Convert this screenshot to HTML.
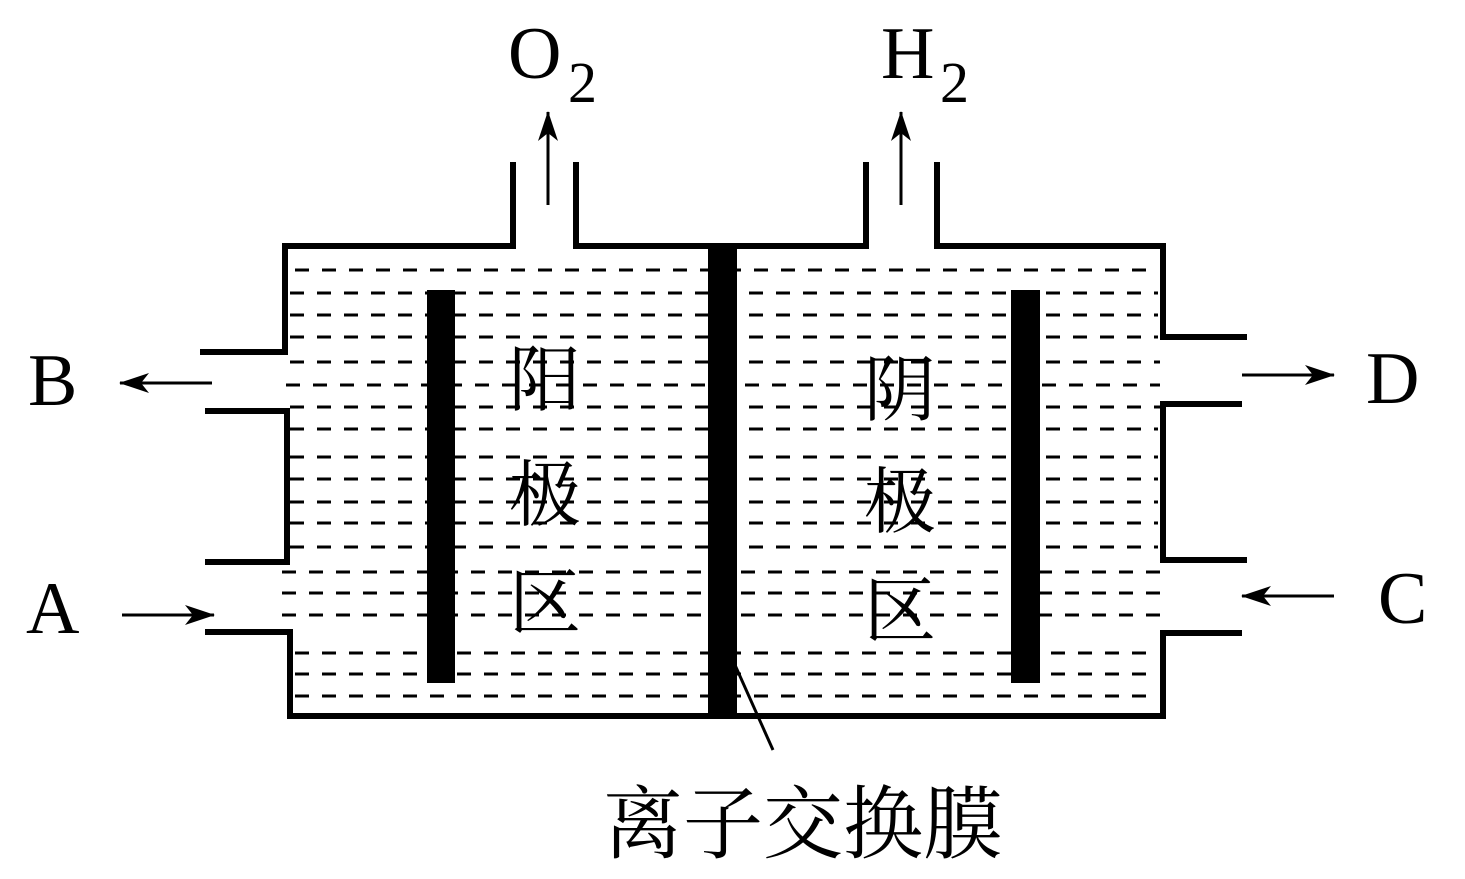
<!DOCTYPE html>
<html><head><meta charset="utf-8"><style>body{margin:0;background:#fff}svg{display:block}</style></head><body>
<svg width="1465" height="879" viewBox="0 0 1465 879" xmlns="http://www.w3.org/2000/svg">
<defs>
<marker id="ah2" markerWidth="30" markerHeight="20" refX="29" refY="10" orient="auto" markerUnits="userSpaceOnUse"><path d="M0,0 L30,10 L0,20 L8,10 Z" fill="#000"/></marker></defs>
<g stroke="#000" stroke-width="3" stroke-dasharray="14,13">
<line x1="295" y1="270" x2="1158" y2="270"/>
<line x1="290" y1="293" x2="1158" y2="293"/>
<line x1="290" y1="315" x2="1158" y2="315"/>
<line x1="290" y1="337" x2="1158" y2="337"/>
<line x1="290" y1="362" x2="1160" y2="362"/>
<line x1="286" y1="385" x2="1160" y2="385"/>
<line x1="290" y1="407" x2="1160" y2="407"/>
<line x1="290" y1="429" x2="1158" y2="429"/>
<line x1="290" y1="457" x2="1158" y2="457"/>
<line x1="290" y1="479" x2="1158" y2="479"/>
<line x1="290" y1="502" x2="1158" y2="502"/>
<line x1="290" y1="523" x2="1158" y2="523"/>
<line x1="290" y1="547" x2="1158" y2="547"/>
<line x1="282" y1="572" x2="1160" y2="572"/>
<line x1="282" y1="593" x2="1160" y2="593"/>
<line x1="282" y1="615" x2="1160" y2="615"/>
<line x1="295" y1="653" x2="1158" y2="653"/>
<line x1="295" y1="674" x2="1158" y2="674"/>
<line x1="295" y1="696" x2="1158" y2="696"/>
</g>
<g stroke="#000" stroke-width="6" fill="none">
<polyline points="200,352 285,352 285,246 513,246 513,162"/>
<polyline points="576,162 576,246 866,246 866,162"/>
<polyline points="937,162 937,246 1163,246 1163,337 1247,337"/>
<polyline points="205,411 287,411 287,562 205,562"/>
<polyline points="205,632 290,632 290,716 1163,716 1163,633 1242,633"/>
<polyline points="1242,404 1163,404 1163,560 1247,560"/>
</g>
<rect x="427" y="290" width="28" height="393" fill="#000"/>
<rect x="1011" y="290" width="29" height="393" fill="#000"/>
<rect x="708" y="246" width="29" height="470" fill="#000"/>
<line x1="735" y1="665" x2="773" y2="750" stroke="#000" stroke-width="3"/>
<g stroke="#000" stroke-width="3">
<line x1="548" y1="205" x2="548" y2="112" marker-end="url(#ah2)"/>
<line x1="901" y1="205" x2="901" y2="112" marker-end="url(#ah2)"/>
<line x1="212" y1="383" x2="120" y2="383" marker-end="url(#ah2)"/>
<line x1="122" y1="615" x2="214" y2="615" marker-end="url(#ah2)"/>
<line x1="1242" y1="375" x2="1334" y2="375" marker-end="url(#ah2)"/>
<line x1="1334" y1="596" x2="1242" y2="596" marker-end="url(#ah2)"/>
</g>
<g font-family="Liberation Serif, serif" font-size="74" fill="#000">
<text x="508" y="78">O</text><text x="568" y="102" font-size="58">2</text>
<text x="881" y="78">H</text><text x="940" y="102" font-size="58">2</text>
<text x="28" y="405">B</text>
<text x="26" y="633">A</text>
<text x="1366" y="403">D</text>
<text x="1378" y="623">C</text>
</g>
<g font-family="Liberation Serif, 'Noto Serif CJK SC', serif" font-size="72" fill="#000">
<text x="509" y="405">阳</text><text x="509" y="520">极</text><text x="509" y="628">区</text>
<text x="864" y="415">阴</text><text x="864" y="527">极</text><text x="864" y="636">区</text>
<text x="603" y="852" font-size="80">离子交换膜</text>
</g>
</svg>
</body></html>
